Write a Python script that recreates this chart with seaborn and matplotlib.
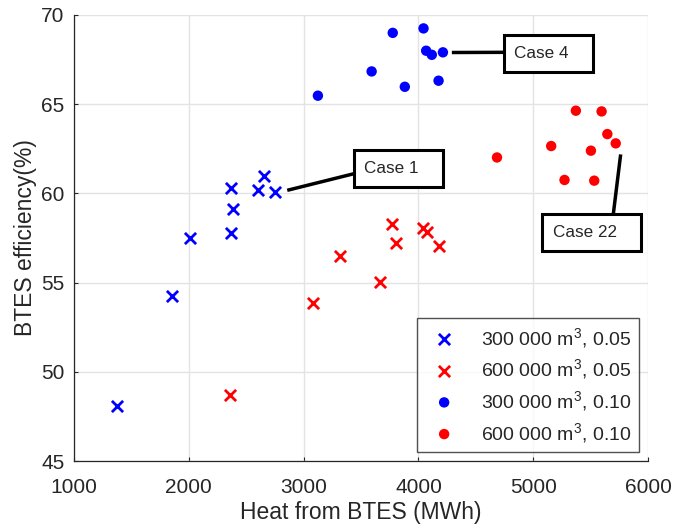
import numpy as np
import pandas as pd
import matplotlib
matplotlib.use('Agg')
import matplotlib.pyplot as plt
import seaborn as sns
from matplotlib.patches import Rectangle

# heat from BTES (MWh) and efficiency (%) for each storage / case group
heat_300_005 = [1374, 1849, 2009, 2368, 2388, 2365, 2600, 2652, 2754]
eff_300_005 = [48.1, 54.26, 57.5, 57.8, 59.13, 60.28, 60.19, 60.98, 60.06]
heat_600_005 = [2359, 3084, 3316, 3664, 3771, 3806, 4043, 4078, 4180]
eff_600_005 = [48.7, 53.85, 56.48, 55.06, 58.3, 57.24, 58.07, 57.83, 57.04]
heat_300_010 = [3124, 3592, 3776, 3881, 4044, 4067, 4116, 4213, 4175]
eff_300_010 = [65.47, 66.83, 68.99, 65.97, 69.24, 67.99, 67.76, 67.9, 66.31]
heat_600_010 = [4684, 5156, 5272, 5371, 5502, 5531, 5595, 5645, 5718]
eff_600_010 = [62.01, 62.65, 60.75, 64.63, 62.39, 60.71, 64.59, 63.32, 62.8]

series_labels = ['300 000 m$^{3}$, 0.05', '600 000 m$^{3}$, 0.05',
                 '300 000 m$^{3}$, 0.10', '600 000 m$^{3}$, 0.10']

# text boxes: label, line start, line end, box (x0, y0, x1, y1)
case_labels = ['Case 1', 'Case 4', 'Case 22']
case_from = [(2857, 60.17), (4291, 67.89), (5761, 62.18)]
case_to = [(3438, 61.1), (4742, 67.9), (5697, 58.84)]
case_boxes = [(3438, 60.34, 4213, 62.43), (4742, 66.81, 5517, 68.88),
              (5080, 56.79, 5936, 58.84)]

sns.set_style('white')
plt.rcParams['font.family'] = ['Liberation Sans', 'DejaVu Sans']
plt.rcParams['mathtext.fontset'] = 'custom'
plt.rcParams['mathtext.rm'] = 'Liberation Sans'
plt.rcParams['mathtext.it'] = 'Liberation Sans:italic'
text_col = '#262626'

df = pd.concat([
    pd.DataFrame({'heat': heat_300_005, 'eff': eff_300_005, 'grp': series_labels[0]}),
    pd.DataFrame({'heat': heat_600_005, 'eff': eff_600_005, 'grp': series_labels[1]}),
    pd.DataFrame({'heat': heat_300_010, 'eff': eff_300_010, 'grp': series_labels[2]}),
    pd.DataFrame({'heat': heat_600_010, 'eff': eff_600_010, 'grp': series_labels[3]}),
])

fig = plt.figure(figsize=(6.73, 5.30), dpi=100)
ax = fig.add_axes([0.110, 0.130, 0.853, 0.842])

styles = [('x', 'blue', 65), ('x', 'red', 65), ('o', 'blue', 56), ('o', 'red', 56)]
for lab, (mk, col, sz) in zip(series_labels, styles):
    d = df[df['grp'] == lab]
    if mk == 'x':
        sns.scatterplot(data=d, x='heat', y='eff', marker='x', color=col, s=sz,
                        linewidth=2.0, label=lab, ax=ax, zorder=3)
    else:
        sns.scatterplot(data=d, x='heat', y='eff', marker='o', color=col, s=sz,
                        edgecolor='none', label=lab, ax=ax, zorder=3)

ax.set_xlim(1000, 6000)
ax.set_ylim(45, 70)
ax.set_xticks(np.arange(1000, 6001, 1000))
ax.set_yticks(np.arange(45, 71, 5))
ax.grid(True, color='#e3e3e3', lw=1.0)
ax.set_axisbelow(True)
for s in ['top', 'right']:
    ax.spines[s].set_visible(False)
for s in ['left', 'bottom']:
    ax.spines[s].set_color(text_col)
    ax.spines[s].set_linewidth(0.9)
ax.tick_params(direction='in', length=3, width=0.8, color=text_col,
               labelsize=15, labelcolor=text_col, bottom=True, left=True)
ax.tick_params(axis='x', pad=12)
ax.tick_params(axis='y', pad=7)
ax.set_xlabel('Heat from BTES (MWh)', fontsize=16.5, color=text_col, labelpad=3)
ax.set_ylabel('BTES efficiency(%)', fontsize=16.5, color=text_col, labelpad=3)

for lab, p0, p1, box in zip(case_labels, case_from, case_to, case_boxes):
    ax.plot([p0[0], p1[0]], [p0[1], p1[1]], color='black', lw=2.5, zorder=4,
            solid_capstyle='butt')
    x0, y0, x1, y1 = box
    ax.add_patch(Rectangle((x0, y0), x1 - x0, y1 - y0, facecolor='white',
                           edgecolor='black', lw=2.2, zorder=5))
    ax.text(x0 + 90, (y0 + y1) / 2, lab, fontsize=12.3, color=text_col,
            ha='left', va='center', zorder=6)

leg = ax.legend(loc='lower right', fontsize=14, frameon=True, fancybox=False,
                borderaxespad=0.45, edgecolor=text_col, labelspacing=0.4,
                handletextpad=0.9, borderpad=0.4)
leg.get_frame().set_linewidth(1.0)
for t in leg.get_texts():
    t.set_color(text_col)

fig.savefig('out.png', dpi=100)
